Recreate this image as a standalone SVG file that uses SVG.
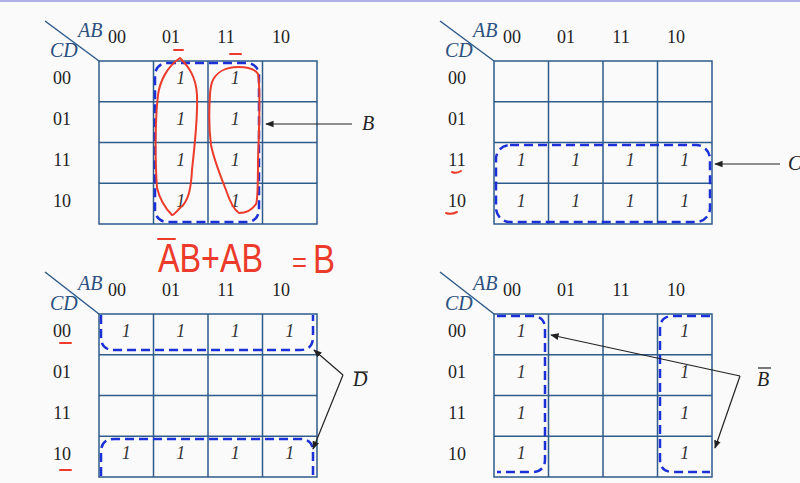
<svg xmlns="http://www.w3.org/2000/svg" width="800" height="483" viewBox="0 0 800 483">
<defs>
<style>
.bg{fill:#fafafa}
.grid{fill:none;stroke:#2e5b8a;stroke-width:1.5}
.diag{stroke:#2e5b8a;stroke-width:1.5}
.var{font-family:"Liberation Serif",serif;font-style:italic;font-size:20px;fill:#2c5180}
.num{font-family:"Liberation Serif",serif;font-size:18px;fill:#222}
.hdr{text-anchor:middle}
.one{font-family:"Liberation Serif",serif;font-style:italic;font-size:18px;fill:#333;text-anchor:middle}
.grp{fill:none;stroke:#1c30d8;stroke-width:2.5;stroke-dasharray:9 5}
.arr{fill:none;stroke:#222;stroke-width:1.2}
.lbl{font-family:"Liberation Serif",serif;font-style:italic;font-size:20px;fill:#222}
.ink{fill:none;stroke:#ec3b2a;stroke-width:2;stroke-linecap:round;stroke-linejoin:round}
.hand{font-family:"Liberation Sans",Arial,sans-serif;fill:#ec3b2a}
</style>
<marker id="ah" viewBox="0 0 10 10" refX="9" refY="5" markerWidth="7" markerHeight="7" orient="auto-start-reverse">
<path d="M0,1 L10,5 L0,9 Z" fill="#222"/>
</marker>
</defs>
<rect class="bg" x="0" y="0" width="800" height="483"/>
<rect x="0" y="0" width="800" height="2" fill="#aeb0e6"/>

<!-- Top-left map -->
<g id="map-tl">
<line class="diag" x1="45" y1="21" x2="99" y2="61"/>
<text class="var" x="78" y="37">AB</text>
<text class="var" x="50" y="57">CD</text>
<text class="num hdr" x="117" y="43">00</text>
<text class="num hdr" x="171" y="43">01</text>
<text class="num hdr" x="226" y="43">11</text>
<text class="num hdr" x="281" y="43">10</text>
<text class="num hdr" x="62" y="84">00</text>
<text class="num hdr" x="62" y="125">01</text>
<text class="num hdr" x="62" y="166">11</text>
<text class="num hdr" x="62" y="207">10</text>
<path class="grid" d="M99,61H317V224H99Z M153.5,61V224 M208,61V224 M262.5,61V224 M99,101.75H317 M99,142.5H317 M99,183.25H317"/>
<text class="one" x="180.75" y="84">1</text>
<text class="one" x="180.75" y="125">1</text>
<text class="one" x="180.75" y="166">1</text>
<text class="one" x="180.75" y="207">1</text>
<text class="one" x="235.25" y="84">1</text>
<text class="one" x="235.25" y="125">1</text>
<text class="one" x="235.25" y="166">1</text>
<text class="one" x="235.25" y="207">1</text>
<rect class="grp" x="155" y="63" width="104" height="159" rx="12"/>
<text class="lbl" x="362" y="130">B</text>
</g>

<!-- Top-right map -->
<g id="map-tr">
<line class="diag" x1="440" y1="21" x2="494" y2="61"/>
<text class="var" x="473" y="37">AB</text>
<text class="var" x="445" y="57">CD</text>
<text class="num hdr" x="512" y="43">00</text>
<text class="num hdr" x="566" y="43">01</text>
<text class="num hdr" x="621" y="43">11</text>
<text class="num hdr" x="676" y="43">10</text>
<text class="num hdr" x="457" y="84">00</text>
<text class="num hdr" x="457" y="125">01</text>
<text class="num hdr" x="457" y="166">11</text>
<text class="num hdr" x="457" y="207">10</text>
<path class="grid" d="M494,61H712V224H494Z M548.5,61V224 M603,61V224 M657.5,61V224 M494,101.75H712 M494,142.5H712 M494,183.25H712"/>
<text class="one" x="521.25" y="166">1</text>
<text class="one" x="575.75" y="166">1</text>
<text class="one" x="630.25" y="166">1</text>
<text class="one" x="684.75" y="166">1</text>
<text class="one" x="521.25" y="207">1</text>
<text class="one" x="575.75" y="207">1</text>
<text class="one" x="630.25" y="207">1</text>
<text class="one" x="684.75" y="207">1</text>
<rect class="grp" x="496" y="145" width="214" height="77" rx="14"/>
<text class="lbl" x="788" y="170">C</text>
</g>

<!-- Bottom-left map -->
<g id="map-bl">
<line class="diag" x1="45" y1="272" x2="99" y2="314"/>
<text class="var" x="78" y="290">AB</text>
<text class="var" x="50" y="310">CD</text>
<text class="num hdr" x="117" y="296">00</text>
<text class="num hdr" x="171" y="296">01</text>
<text class="num hdr" x="226" y="296">11</text>
<text class="num hdr" x="281" y="296">10</text>
<text class="num hdr" x="62" y="337">00</text>
<text class="num hdr" x="62" y="378">01</text>
<text class="num hdr" x="62" y="419">11</text>
<text class="num hdr" x="62" y="460">10</text>
<path class="grid" d="M99,314H317V477H99Z M153.5,314V477 M208,314V477 M262.5,314V477 M99,354.75H317 M99,395.5H317 M99,436.25H317"/>
<text class="one" x="126.25" y="337">1</text>
<text class="one" x="180.75" y="337">1</text>
<text class="one" x="235.25" y="337">1</text>
<text class="one" x="289.75" y="337">1</text>
<text class="one" x="126.25" y="459">1</text>
<text class="one" x="180.75" y="459">1</text>
<text class="one" x="235.25" y="459">1</text>
<text class="one" x="289.75" y="459">1</text>
<path class="grp" d="M101,315V337Q101,350 114,350H300Q313,350 313,337V315"/>
<path class="grp" d="M101,476V452Q101,439 114,439H300Q313,439 313,452V476"/>
<text class="lbl" x="353" y="386">D</text>
<line x1="354" y1="372" x2="368" y2="372" stroke="#222" stroke-width="1.2"/>
</g>

<!-- Bottom-right map -->
<g id="map-br">
<line class="diag" x1="440" y1="272" x2="494" y2="314"/>
<text class="var" x="473" y="290">AB</text>
<text class="var" x="445" y="310">CD</text>
<text class="num hdr" x="512" y="296">00</text>
<text class="num hdr" x="566" y="296">01</text>
<text class="num hdr" x="621" y="296">11</text>
<text class="num hdr" x="676" y="296">10</text>
<text class="num hdr" x="457" y="337">00</text>
<text class="num hdr" x="457" y="378">01</text>
<text class="num hdr" x="457" y="419">11</text>
<text class="num hdr" x="457" y="460">10</text>
<path class="grid" d="M494,314H712V477H494Z M548.5,314V477 M603,314V477 M657.5,314V477 M494,354.75H712 M494,395.5H712 M494,436.25H712"/>
<text class="one" x="521.25" y="337">1</text>
<text class="one" x="521.25" y="378">1</text>
<text class="one" x="521.25" y="419">1</text>
<text class="one" x="521.25" y="459">1</text>
<text class="one" x="684.75" y="337">1</text>
<text class="one" x="684.75" y="378">1</text>
<text class="one" x="684.75" y="419">1</text>
<text class="one" x="684.75" y="459">1</text>
<path class="grp" d="M497,316H532Q545,316 545,329V459Q545,472 532,472H497"/>
<path class="grp" d="M710,316H673Q660,316 660,329V459Q660,472 673,472H710"/>
<text class="lbl" x="757" y="386">B</text>
<line x1="758" y1="368" x2="771" y2="368" stroke="#222" stroke-width="1.2"/>
</g>

<!-- Connectors -->
<g id="connectors">
<line class="arr" x1="352" y1="124" x2="266" y2="124" marker-end="url(#ah)"/>
<line class="arr" x1="780" y1="164" x2="715" y2="164" marker-end="url(#ah)"/>
<line class="arr" x1="343" y1="375" x2="314" y2="350" marker-end="url(#ah)"/>
<line class="arr" x1="343" y1="375" x2="313" y2="449" marker-end="url(#ah)"/>
<line class="arr" x1="740" y1="376" x2="551" y2="335" marker-end="url(#ah)"/>
<line class="arr" x1="740" y1="376" x2="715" y2="448" marker-end="url(#ah)"/>
</g>

<!-- Handwritten annotations -->
<g id="annotations">
<path class="ink" d="M180,58C188,66 196,76 197,95C198,120 194,150 192,170C191,190 188,202 180,208C176,212 174,215 172,215C167,210 160,200 157,188C155,160 155,120 158,95C160,80 168,66 180,58Z"/>
<path class="ink" d="M212,82C216,72 226,67 238,67C248,67 255,69 258,74C261,90 259,130 258,160C258,185 258,200 256,204C252,210 246,213 239,213C234,210 230,202 226,190C220,175 214,160 211,145C209,130 209,110 210,95C210,90 211,86 212,82Z"/>
<line class="ink" x1="174" y1="50" x2="183" y2="50"/>
<line class="ink" x1="230" y1="54" x2="241" y2="54"/>
<path class="ink" d="M452,172Q456,174 461,171"/>
<path class="ink" d="M446,213Q451,215 457,212"/>
<line class="ink" x1="60" y1="343" x2="71" y2="343"/>
<line class="ink" x1="60" y1="470" x2="71" y2="470"/>
<line class="ink" x1="158" y1="239" x2="175" y2="239"/>
<text class="hand" x="158" y="272" font-size="40" textLength="105" lengthAdjust="spacingAndGlyphs">AB+AB</text>
<text class="hand" x="292" y="272" font-size="28" textLength="15" lengthAdjust="spacingAndGlyphs">=</text>
<text class="hand" x="313" y="273" font-size="40" textLength="22" lengthAdjust="spacingAndGlyphs">B</text>
</g>
</svg>
